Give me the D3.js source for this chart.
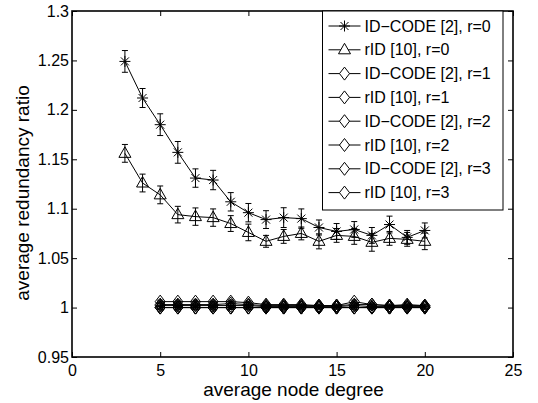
<!DOCTYPE html>
<html>
<head>
<meta charset="utf-8">
<script src="https://cdn.jsdelivr.net/npm/d3@7"></script>
<style>
    body { margin: 0; background: #fff; }
    #redundancy-chart { width: 538px; height: 403px; }
    svg { display: block; font-family: 'Liberation Sans', Arial, sans-serif; }
</style>
</head>
<body>
<div id="redundancy-chart"></div>
<script>
// x values (average node degree)
const degreesR0 = [3, 4, 5, 6, 7, 8, 9, 10, 11, 12, 13, 14, 15, 16, 17, 18, 19, 20];
const degreesR123 = [5, 6, 7, 8, 9, 10, 11, 12, 13, 14, 15, 16, 17, 18, 19, 20];

// r = 0
const idcodeR0 = [1.249, 1.212, 1.185, 1.157, 1.131, 1.129, 1.107, 1.096, 1.089, 1.091, 1.090, 1.081, 1.077, 1.079, 1.073, 1.084, 1.071, 1.078];
const idcodeR0Err = [0.011, 0.0096, 0.011, 0.011, 0.0093, 0.0098, 0.0093, 0.0093, 0.009, 0.010, 0.0098, 0.0076, 0.008, 0.008, 0.008, 0.0085, 0.007, 0.0076];
const ridR0 = [1.156, 1.126, 1.114, 1.094, 1.092, 1.091, 1.085, 1.076, 1.067, 1.072, 1.075, 1.067, 1.073, 1.072, 1.066, 1.070, 1.069, 1.067];
const ridR0Err = [0.009, 0.009, 0.009, 0.0084, 0.0088, 0.0088, 0.008, 0.0084, 0.006, 0.007, 0.0065, 0.0076, 0.007, 0.008, 0.009, 0.007, 0.007, 0.0084];

// r = 1..3
const idcodeR1 = [1.006, 1.006, 1.006, 1.006, 1.006, 1.005, 1.003, 1.003, 1.003, 1.002, 1.002, 1.003, 1.003, 1.002, 1.003, 1.002];
const ridR1 = [1.000, 1.000, 1.000, 1.000, 1.000, 1.000, 1.000, 1.000, 1.000, 1.000, 1.000, 1.000, 1.000, 1.000, 1.000, 1.000];
const idcodeR2 = [1.003, 1.003, 1.003, 1.003, 1.004, 1.003, 1.002, 1.002, 1.002, 1.002, 1.002, 1.006, 1.003, 1.002, 1.002, 1.002];
const ridR2 = [1.000, 1.000, 1.000, 1.000, 1.000, 1.000, 1.000, 1.000, 1.000, 1.000, 1.000, 1.000, 1.000, 1.000, 1.000, 1.000];
const idcodeR3 = [1.002, 1.002, 1.002, 1.002, 1.002, 1.002, 1.001, 1.001, 1.001, 1.001, 1.001, 1.002, 1.001, 1.001, 1.001, 1.001];
const ridR3 = [1.000, 1.000, 1.000, 1.000, 1.000, 1.000, 1.000, 1.000, 1.000, 1.000, 1.000, 1.000, 1.000, 1.000, 1.000, 1.000];
const smallErr = [0.0015, 0.0015, 0.0015, 0.0015, 0.0015, 0.0015, 0.0015, 0.0015, 0.0015, 0.0015, 0.0015, 0.0015, 0.0015, 0.0015, 0.0015, 0.0015];

const legendLabels = [
    'ID\u2212CODE [2], r=0', 'rID [10], r=0',
    'ID\u2212CODE [2], r=1', 'rID [10], r=1',
    'ID\u2212CODE [2], r=2', 'rID [10], r=2',
    'ID\u2212CODE [2], r=3', 'rID [10], r=3'
];
const markers = ['star', 'triangle', 'diamond', 'diamond', 'diamond', 'diamond', 'diamond', 'diamond'];

const xTicks = [0, 5, 10, 15, 20, 25];
const yTicks = [0.95, 1, 1.05, 1.1, 1.15, 1.2, 1.25, 1.3];
const yTickLabels = ['0.95', '1', '1.05', '1.1', '1.15', '1.2', '1.25', '1.3'];

window.RedundancyChart = {
    create() {
        const container = d3.select('#redundancy-chart');
        container.selectAll('*').remove();

        const margin = { top: 11, right: 25, bottom: 46, left: 72 };
        const width = 538 - margin.left - margin.right;
        const height = 403 - margin.top - margin.bottom;

        const svg = container.append('svg')
            .attr('width', 538)
            .attr('height', 403);

        const g = svg.append('g')
            .attr('transform', `translate(${margin.left},${margin.top})`);

        const allData = RedundancyChart.prepareData();
        const scales = RedundancyChart.createScales(width, height);
        RedundancyChart.createAxes(g, scales, width, height);
        RedundancyChart.createLines(g, allData, scales);
        RedundancyChart.createLegend(svg, allData);
    },

    prepareData() {
        const ys = [idcodeR0, ridR0, idcodeR1, ridR1, idcodeR2, ridR2, idcodeR3, ridR3];
        const errs = [idcodeR0Err, ridR0Err, smallErr, smallErr, smallErr, smallErr, smallErr, smallErr];
        return ys.map((vals, i) => {
            const xs = i < 2 ? degreesR0 : degreesR123;
            return {
                name: legendLabels[i],
                marker: markers[i],
                data: vals.map((v, j) => ({ degree: xs[j], ratio: v, err: errs[i][j] }))
            };
        });
    },

    createScales(width, height) {
        const xScale = d3.scaleLinear().domain([0, 25]).range([0, width]);
        const yScale = d3.scaleLinear().domain([0.95, 1.3]).range([height, 0]);
        return { xScale, yScale };
    },

    markerPath(type) {
        if (type === 'star') {
            return 'M-5.5,0H5.5M0,-5.5V5.5M-4,-4L4,4M-4,4L4,-4';
        }
        if (type === 'triangle') {
            return 'M0,-6.5L6,4L-6,4Z';
        }
        return 'M0,-6.5L5,0L0,6.5L-5,0Z';
    },

    createAxes(g, scales, width, height) {
        const tickLen = 5;

        // tick marks pointing inward on all four sides
        g.append('g')
            .attr('transform', `translate(0,${height})`)
            .call(d3.axisBottom(scales.xScale).tickValues(xTicks).tickSize(-tickLen).tickFormat(''));
        g.append('g')
            .call(d3.axisTop(scales.xScale).tickValues(xTicks).tickSize(-tickLen).tickFormat(''));
        g.append('g')
            .call(d3.axisLeft(scales.yScale).tickValues(yTicks).tickSize(-tickLen).tickFormat(''));
        g.append('g')
            .attr('transform', `translate(${width},0)`)
            .call(d3.axisRight(scales.yScale).tickValues(yTicks).tickSize(-tickLen).tickFormat(''));

        // labels
        const xLab = g.append('g')
            .attr('transform', `translate(0,${height})`)
            .call(d3.axisBottom(scales.xScale).tickValues(xTicks).tickSize(0).tickPadding(8));
        const yLab = g.append('g')
            .call(d3.axisLeft(scales.yScale).tickValues(yTicks).tickSize(0).tickPadding(3)
                .tickFormat((d, i) => yTickLabels[i]));

        [xLab, yLab].forEach(a => {
            a.select('.domain').remove();
            a.selectAll('text')
                .style('font-size', '16px')
                .style('font-family', "'Liberation Sans', Arial, sans-serif")
                .style('fill', '#000');
        });

        g.selectAll('.tick line').attr('stroke', '#000').attr('stroke-width', 1);
        g.selectAll('.domain').remove();

        // box
        g.append('rect')
            .attr('x', 0)
            .attr('y', 0)
            .attr('width', width)
            .attr('height', height)
            .attr('fill', 'none')
            .attr('stroke', '#000')
            .attr('stroke-width', 1.6);

        g.append('text')
            .attr('x', width / 2 + 1)
            .attr('y', height + 38.5)
            .style('text-anchor', 'middle')
            .style('font-size', '19px')
            .style('fill', '#000')
            .text('average node degree');

        g.append('text')
            .attr('transform', 'rotate(-90)')
            .attr('x', -182)
            .attr('y', -43)
            .style('text-anchor', 'middle')
            .style('font-size', '19px')
            .style('fill', '#000')
            .text('average redundancy ratio');
    },

    createLines(g, allData, scales) {
        const line = d3.line()
            .x(d => scales.xScale(d.degree))
            .y(d => scales.yScale(d.ratio));

        allData.forEach(series => {
            const sg = g.append('g').attr('class', 'series');

            // error bars
            series.data.forEach(d => {
                const x = scales.xScale(d.degree);
                const y0 = scales.yScale(d.ratio - d.err);
                const y1 = scales.yScale(d.ratio + d.err);
                sg.append('path')
                    .attr('d', `M${x},${y0}V${y1}M${x - 3},${y0}H${x + 3}M${x - 3},${y1}H${x + 3}`)
                    .attr('fill', 'none')
                    .attr('stroke', '#000')
                    .attr('stroke-width', 1);
            });

            sg.append('path')
                .datum(series.data)
                .attr('fill', 'none')
                .attr('stroke', '#000')
                .attr('stroke-width', 1)
                .attr('d', line);

            sg.selectAll('.marker')
                .data(series.data)
                .enter()
                .append('path')
                .attr('class', 'marker')
                .attr('transform', d => `translate(${scales.xScale(d.degree)},${scales.yScale(d.ratio)})`)
                .attr('d', RedundancyChart.markerPath(series.marker))
                .attr('fill', 'none')
                .attr('stroke', '#000')
                .attr('stroke-width', 1);
        });
    },

    createLegend(svg, allData) {
        const legend = svg.append('g')
            .attr('class', 'legend')
            .attr('transform', 'translate(322.5, 11)');

        legend.append('rect')
            .attr('width', 180.5)
            .attr('height', 199)
            .attr('fill', '#fff')
            .attr('stroke', '#000')
            .attr('stroke-width', 1);

        allData.forEach((series, i) => {
            const row = legend.append('g')
                .attr('transform', `translate(0, ${15 + i * 23.8})`);

            row.append('line')
                .attr('x1', 6)
                .attr('x2', 38)
                .attr('stroke', '#000')
                .attr('stroke-width', 1);

            row.append('path')
                .attr('transform', 'translate(22,0)')
                .attr('d', RedundancyChart.markerPath(series.marker))
                .attr('fill', '#fff')
                .attr('stroke', '#000')
                .attr('stroke-width', 1);

            row.append('text')
                .attr('x', 42)
                .attr('dy', '0.35em')
                .style('font-size', '16px')
                .style('fill', '#000')
                .text(series.name);
        });
    }
};

RedundancyChart.create();
</script>
</body>
</html>
